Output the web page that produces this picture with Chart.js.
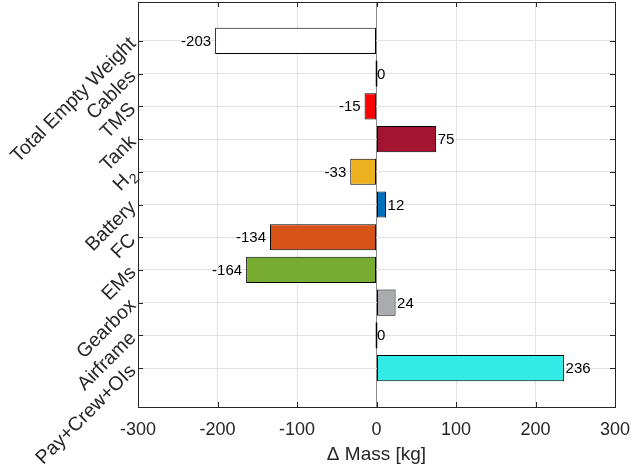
<!DOCTYPE html>
<html lang="en">
<head>
  <meta charset="UTF-8">
  <title>Δ Mass Breakdown</title>
  <script src="https://cdn.jsdelivr.net/npm/chart.js"></script>
  <style>
    html, body {
      margin: 0;
      padding: 0;
      background: #fff;
    }
    .wrap {
      width: 632px;
      height: 473px;
    }
  </style>
</head>
<body>

  <div class="wrap">
    <canvas id="massChart" width="632" height="473"></canvas>
  </div>

  <script>
    // Mass change per component, top to bottom
    const categories = ['Total Empty Weight', 'Cables', 'TMS', 'Tank', 'H_2', 'Battery', 'FC', 'EMs', 'Gearbox', 'Airframe', 'Pay+Crew+OIs'];
    const deltaMass = [-203, 0, -15, 75, -33, 12, -134, -164, 24, 0, 236];
    const barColors = ['#ffffff', '#000000', '#ff0000', '#a2142f', '#edb120', '#0072bd', '#d95319', '#77ac30', '#a9abaf', '#000000', '#33ebe6'];
    const xTicks = [-300, -200, -100, 0, 100, 200, 300];

    const FONT = "'Liberation Sans', Arial, Helvetica, sans-serif";
    const AXIS_COLOR = '#262626';
    const LABEL_SIZE = 19.5;
    const LABEL_PAD = 5;

    // bars sit at y = 1..n on a numeric axis so the outer margins can be set freely
    const points = deltaMass.map((v, i) => ({ x: v, y: i + 1 }));

    // value labels at the end of each bar
    const barLabels = {
      id: 'barLabels',
      afterDatasetsDraw(chart) {
        const ctx = chart.ctx;
        const meta = chart.getDatasetMeta(0);
        ctx.save();
        ctx.font = '15px ' + FONT;
        ctx.fillStyle = '#000';
        ctx.textBaseline = 'middle';
        meta.data.forEach((bar, i) => {
          const v = deltaMass[i];
          if (v < 0) {
            ctx.textAlign = 'right';
            ctx.fillText(String(v), bar.x - 4, bar.y + 1);
          } else {
            ctx.textAlign = 'left';
            ctx.fillText(String(v), bar.x + 1.5, bar.y + 1);
          }
        });
        ctx.restore();
      }
    };

    // tick labels written as "X_n" get a TeX-like subscript, drawn by hand
    const subscriptTicks = {
      id: 'subscriptTicks',
      afterDraw(chart) {
        const { ctx, scales } = chart;
        const y = scales.y;
        ctx.save();
        ctx.fillStyle = AXIS_COLOR;
        categories.forEach((c, i) => {
          if (c.indexOf('_') < 0) return;
          const [base, sub] = c.split('_');
          const subSize = LABEL_SIZE * 0.72;
          ctx.translate(y.right - LABEL_PAD, y.getPixelForValue(i + 1));
          ctx.rotate(-Math.PI / 4);
          ctx.textBaseline = 'middle';
          ctx.textAlign = 'right';
          ctx.font = subSize + 'px ' + FONT;
          const subW = ctx.measureText(sub).width;
          ctx.fillText(sub, 0, LABEL_SIZE * 0.32);
          ctx.font = LABEL_SIZE + 'px ' + FONT;
          ctx.fillText(base, -subW - 1, 0);
          ctx.setTransform(1, 0, 0, 1, 0, 0);
        });
        ctx.restore();
      }
    };

    // box around the plot with inward tick marks on all four sides
    const axesBox = {
      id: 'axesBox',
      afterDraw(chart) {
        const { ctx, chartArea: a, scales } = chart;
        const len = 5;
        ctx.save();
        ctx.strokeStyle = AXIS_COLOR;
        ctx.lineWidth = 1;
        ctx.strokeRect(Math.round(a.left) + 0.5, Math.round(a.top) + 0.5,
          Math.round(a.right - a.left), Math.round(a.bottom - a.top));
        ctx.beginPath();
        xTicks.forEach(t => {
          const px = Math.round(scales.x.getPixelForValue(t)) + 0.5;
          ctx.moveTo(px, a.bottom); ctx.lineTo(px, a.bottom - len);
          ctx.moveTo(px, a.top); ctx.lineTo(px, a.top + len);
        });
        categories.forEach((c, i) => {
          const py = Math.round(scales.y.getPixelForValue(i + 1)) + 0.5;
          ctx.moveTo(a.left, py); ctx.lineTo(a.left + len, py);
          ctx.moveTo(a.right, py); ctx.lineTo(a.right - len, py);
        });
        ctx.stroke();
        ctx.restore();
      }
    };

    const noPadding = s => {
      s.paddingTop = 0;
      s.paddingBottom = 0;
      s.paddingLeft = 0;
      s.paddingRight = 0;
    };

    new Chart(document.getElementById('massChart'), {
      type: 'bar',
      data: {
        datasets: [{
          data: points,
          backgroundColor: barColors,
          borderColor: '#000000',
          borderWidth: 1,
          borderSkipped: false,
          minBarLength: 2,
          barPercentage: 0.8,
          categoryPercentage: 1.0
        }]
      },
      options: {
        indexAxis: 'y',
        responsive: false,
        animation: false,
        layout: { padding: { top: 2, right: 17, bottom: 0, left: 0 } },
        plugins: {
          legend: { display: false },
          tooltip: { enabled: false }
        },
        scales: {
          x: {
            type: 'linear',
            min: -300,
            max: 300,
            afterBuildTicks: s => { s.ticks = xTicks.map(v => ({ value: v })); },
            afterFit: s => { s.height = 66; noPadding(s); },
            grid: {
              color: ctx => (ctx.tick && ctx.tick.value === 0) ? '#8a8a8a' : '#e3e3e3',
              drawTicks: false
            },
            border: { display: false },
            ticks: {
              color: AXIS_COLOR,
              font: { family: FONT, size: 18 },
              padding: 12,
              maxRotation: 0,
              autoSkip: false
            },
            title: {
              display: true,
              text: 'Δ Mass [kg]',
              color: AXIS_COLOR,
              font: { family: FONT, size: 19 },
              padding: { top: 0, bottom: 7 }
            }
          },
          y: {
            type: 'linear',
            reverse: true,
            offset: false,
            min: -0.19,
            max: 12.19,
            afterBuildTicks: s => { s.ticks = categories.map((c, i) => ({ value: i + 1 })); },
            afterFit: s => { s.width = 138; noPadding(s); },
            grid: { color: '#e3e3e3', drawTicks: false, offset: false },
            border: { display: false },
            ticks: {
              color: AXIS_COLOR,
              font: { family: FONT, size: LABEL_SIZE },
              padding: LABEL_PAD,
              minRotation: 45,
              maxRotation: 45,
              autoSkip: false,
              callback: v => {
                const c = categories[v - 1];
                return c.indexOf('_') < 0 ? c : '';
              }
            }
          }
        }
      },
      plugins: [barLabels, subscriptTicks, axesBox]
    });
  </script>

</body>
</html>
